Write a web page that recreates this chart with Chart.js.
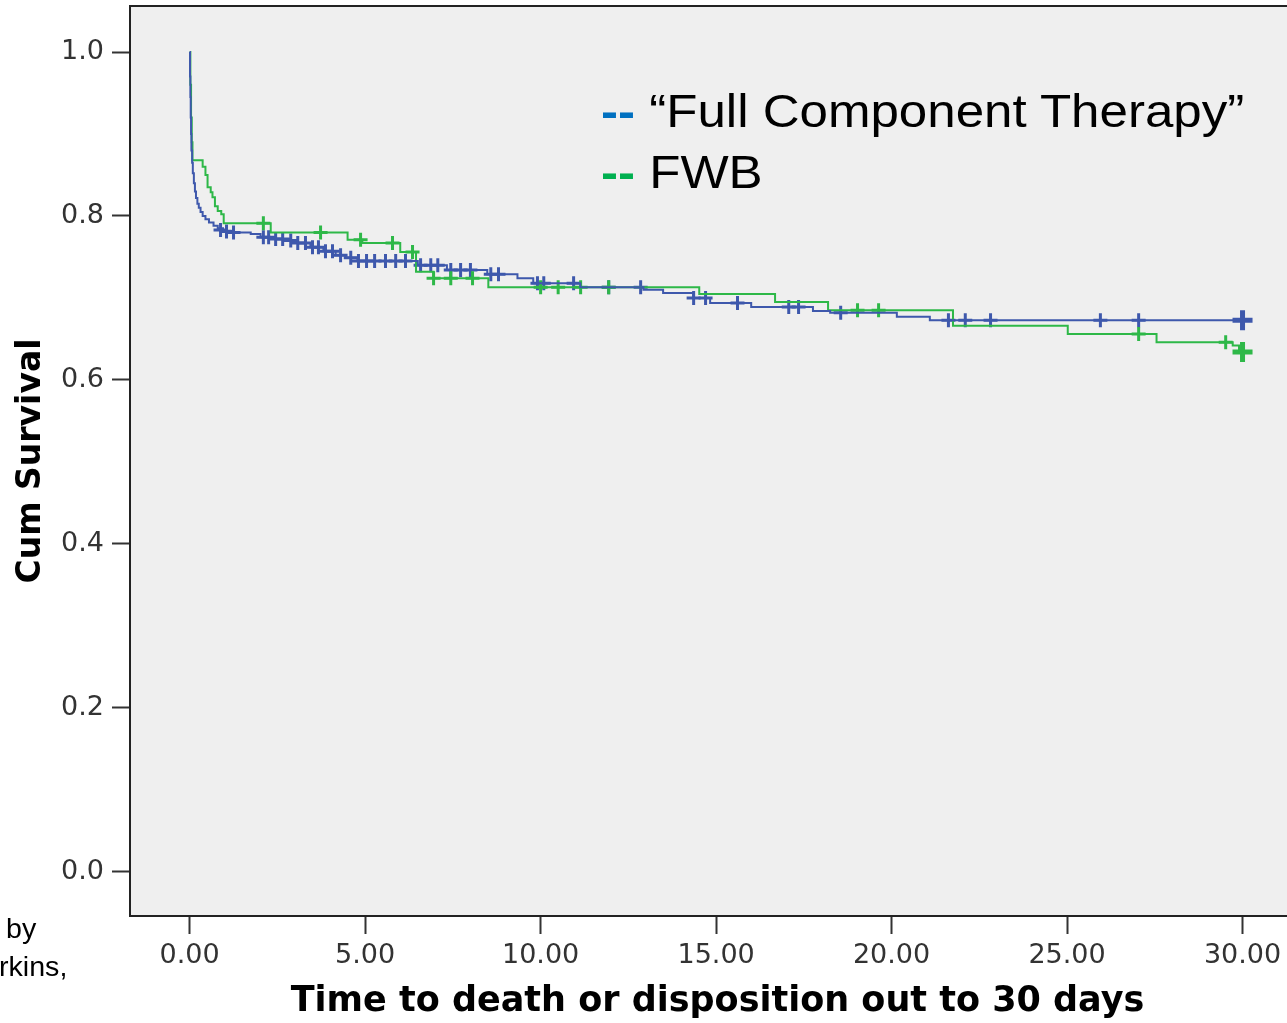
<!DOCTYPE html>
<html>
<head>
<meta charset="utf-8">
<script src="https://cdn.jsdelivr.net/npm/chart.js@4"></script>
<style>
html,body{margin:0;padding:0;overflow:hidden;background:#fff;width:1287px;height:1023px;}
#wrap{position:absolute;left:0;top:0;width:1310px;height:1023px;}
canvas{display:block;}
.legend{position:absolute;font-family:"Liberation Sans",Arial,sans-serif;font-size:46px;color:#000;white-space:nowrap;transform:scaleX(1.11);transform-origin:0 0;line-height:1;}
.dash{font-weight:bold;}
.note{position:absolute;font-family:"Liberation Sans",Arial,sans-serif;font-size:27px;color:#000;white-space:nowrap;line-height:1;transform:scaleX(1.06);transform-origin:0 0;}
</style>
</head>
<body>
<div id="wrap"><canvas id="c" width="1310" height="1023"></canvas></div>
<div class="legend" id="leg1" style="left:601px;top:88px;"><span class="dash" style="color:#0070c0">--</span> <span id="n1"></span></div>
<div class="legend" id="leg2" style="left:601px;top:149px;"><span class="dash" style="color:#00b050">--</span> <span id="n2"></span></div>
<div class="note" style="left:6px;top:916px;">by</div>
<div class="note" style="left:-1px;top:954px;">rkins,</div>
<script>
// ---- data ----
const seriesNames = ['“Full Component Therapy”', 'FWB'];
const xTicks = [0, 5, 10, 15, 20, 25, 30];
const yTicks = [0, 0.2, 0.4, 0.6, 0.8, 1.0];

// Kaplan-Meier steps: Full Component Therapy (blue)
const blueT = [0, 0.01, 0.02, 0.03, 0.04, 0.05, 0.07, 0.09, 0.12, 0.15, 0.18, 0.22, 0.26, 0.31, 0.37, 0.45, 0.55, 0.68, 0.8, 0.95, 1.17, 1.74, 2.02, 2.45, 2.88, 3.07, 3.44, 3.81, 4.16, 4.44, 4.78, 6.5, 7.33, 8.48, 9.34, 9.79, 11.13, 12.93, 13.49, 14.35, 14.83, 16.0, 17.76, 18.25, 20.15, 21.09, 30];
const blueS = [1.0, 0.97, 0.945, 0.92, 0.90, 0.88, 0.865, 0.852, 0.84, 0.83, 0.822, 0.815, 0.81, 0.805, 0.80, 0.796, 0.792, 0.788, 0.785, 0.782, 0.780, 0.778, 0.774, 0.772, 0.770, 0.767, 0.762, 0.757, 0.752, 0.749, 0.745, 0.740, 0.734, 0.729, 0.724, 0.718, 0.713, 0.710, 0.706, 0.700, 0.694, 0.689, 0.684, 0.682, 0.677, 0.673, 0.673];

// Kaplan-Meier steps: FWB (green)
const greenT = [0, 0.02, 0.04, 0.06, 0.08, 0.37, 0.45, 0.51, 0.6, 0.65, 0.72, 0.8, 0.9, 0.97, 2.31, 4.5, 4.92, 6.0, 6.45, 6.95, 8.51, 14.52, 16.68, 18.19, 21.75, 25.02, 27.55, 29.72, 29.9, 30];
const greenS = [1.0, 0.96, 0.92, 0.89, 0.868, 0.86, 0.85, 0.835, 0.829, 0.823, 0.812, 0.806, 0.802, 0.791, 0.780, 0.771, 0.767, 0.756, 0.732, 0.724, 0.713, 0.705, 0.695, 0.685, 0.666, 0.656, 0.646, 0.642, 0.634, 0.634];

// censored observations
const blueCensorT = [0.88, 1.05, 1.25, 2.1, 2.25, 2.45, 2.65, 2.88, 3.08, 3.3, 3.5, 3.67, 3.87, 4.07, 4.3, 4.59, 4.81, 5.04, 5.27, 5.58, 5.87, 6.15, 6.58, 6.87, 7.07, 7.44, 7.72, 8.0, 8.58, 8.8, 9.91, 10.09, 10.94, 11.94, 12.85, 14.36, 14.7, 15.61, 17.07, 17.35, 18.55, 21.62, 22.1, 22.82, 25.95, 27.04];
const blueCensorS = [0.783, 0.781, 0.780, 0.774, 0.774, 0.772, 0.772, 0.770, 0.767, 0.767, 0.762, 0.762, 0.757, 0.757, 0.752, 0.749, 0.745, 0.745, 0.745, 0.745, 0.745, 0.745, 0.740, 0.740, 0.740, 0.734, 0.734, 0.734, 0.729, 0.729, 0.718, 0.718, 0.718, 0.713, 0.713, 0.700, 0.700, 0.694, 0.689, 0.689, 0.682, 0.673, 0.673, 0.673, 0.673, 0.673];
const greenCensorT = [2.1, 3.73, 4.87, 5.78, 6.35, 6.95, 7.44, 8.06, 10.0, 10.5, 11.14, 11.94, 19.03, 19.63, 27.04, 29.52];
const greenCensorS = [0.791, 0.780, 0.771, 0.767, 0.756, 0.724, 0.724, 0.724, 0.713, 0.713, 0.713, 0.713, 0.685, 0.685, 0.656, 0.646];
const blueLastT = [30], blueLastS = [0.673];
const greenLastT = [30], greenLastS = [0.634];

// ---- chart ----
document.getElementById('n1').textContent = seriesNames[0];
document.getElementById('n2').textContent = seriesNames[1];

const BLUE = '#3e58ac', GREEN = '#2eb848';
const pts = (T, S) => T.map((t, i) => ({x: t, y: S[i]}));

const framePlugin = {
  id: 'frame',
  beforeDraw(c) {
    const {ctx, chartArea: a} = c;
    ctx.save(); ctx.fillStyle = '#efefef';
    ctx.fillRect(a.left, a.top, a.right - a.left, a.bottom - a.top);
    ctx.restore();
  },
  afterDraw(c) {
    const {ctx, chartArea: a} = c;
    ctx.save(); ctx.strokeStyle = '#222'; ctx.lineWidth = 2;
    ctx.strokeRect(a.left, a.top, a.right - a.left, a.bottom - a.top);
    ctx.restore();
  }
};

const tickFont = {family: 'DejaVu Sans', size: 27};

new Chart(document.getElementById('c'), {
  type: 'line',
  data: {
    datasets: [
      {label: seriesNames[0], data: pts(blueT, blueS), borderColor: BLUE, borderWidth: 2, stepped: 'before', pointRadius: 0, fill: false},
      {label: seriesNames[1], data: pts(greenT, greenS), borderColor: GREEN, borderWidth: 2, stepped: 'before', pointRadius: 0, fill: false},
      {type: 'scatter', data: pts(greenCensorT, greenCensorS), borderColor: GREEN, backgroundColor: GREEN, pointStyle: 'cross', pointRadius: 7, borderWidth: 3, showLine: false},
      {type: 'scatter', data: pts(blueCensorT, blueCensorS), borderColor: BLUE, backgroundColor: BLUE, pointStyle: 'cross', pointRadius: 7, borderWidth: 3, showLine: false},
      {type: 'scatter', data: pts(greenLastT, greenLastS), borderColor: GREEN, backgroundColor: GREEN, pointStyle: 'cross', pointRadius: 10, borderWidth: 5, showLine: false},
      {type: 'scatter', data: pts(blueLastT, blueLastS), borderColor: BLUE, backgroundColor: BLUE, pointStyle: 'cross', pointRadius: 10, borderWidth: 5, showLine: false}
    ]
  },
  options: {
    responsive: false,
    animation: false,
    devicePixelRatio: 1,
    layout: {autoPadding: false, padding: {top: 6, right: 5, left: 0, bottom: 0}},
    plugins: {legend: {display: false}, tooltip: {enabled: false}},
    events: [],
    scales: {
      x: {
        type: 'linear', min: -1.7, max: 31.78,
        afterBuildTicks: s => { s.ticks = xTicks.map(v => ({value: v})); },
        afterFit: s => { s.height = 107; s.paddingLeft = 0; s.paddingRight = 0; s.paddingTop = 0; s.paddingBottom = 0; },
        grid: {drawOnChartArea: false, drawTicks: true, tickLength: 18, tickWidth: 2, tickColor: '#333'},
        border: {display: false},
        ticks: {font: tickFont, color: '#333', padding: 6, maxRotation: 0, autoSkip: false, callback: v => Number(v).toFixed(2)},
        title: {display: true, text: 'Time to death or disposition out to 30 days', font: {family: 'DejaVu Sans', size: 35, weight: 'bold'}, color: '#000', padding: {top: 0, bottom: 0}}
      },
      y: {
        type: 'linear', min: -0.0537, max: 1.0561,
        afterBuildTicks: s => { s.ticks = yTicks.map(v => ({value: v})); },
        afterFit: s => { s.width = 130; s.paddingLeft = 0; s.paddingRight = 0; s.paddingTop = 0; s.paddingBottom = 0; },
        grid: {drawOnChartArea: false, drawTicks: true, tickLength: 18, tickWidth: 2, tickColor: '#333'},
        border: {display: false},
        ticks: {font: tickFont, color: '#333', padding: 8, autoSkip: false, callback: v => Number(v).toFixed(1)},
        title: {display: true, text: 'Cum Survival', font: {family: 'DejaVu Sans', size: 33, weight: 'bold'}, color: '#000', padding: {top: 12, bottom: 0}}
      }
    }
  },
  plugins: [framePlugin]
});
</script>
</body>
</html>
